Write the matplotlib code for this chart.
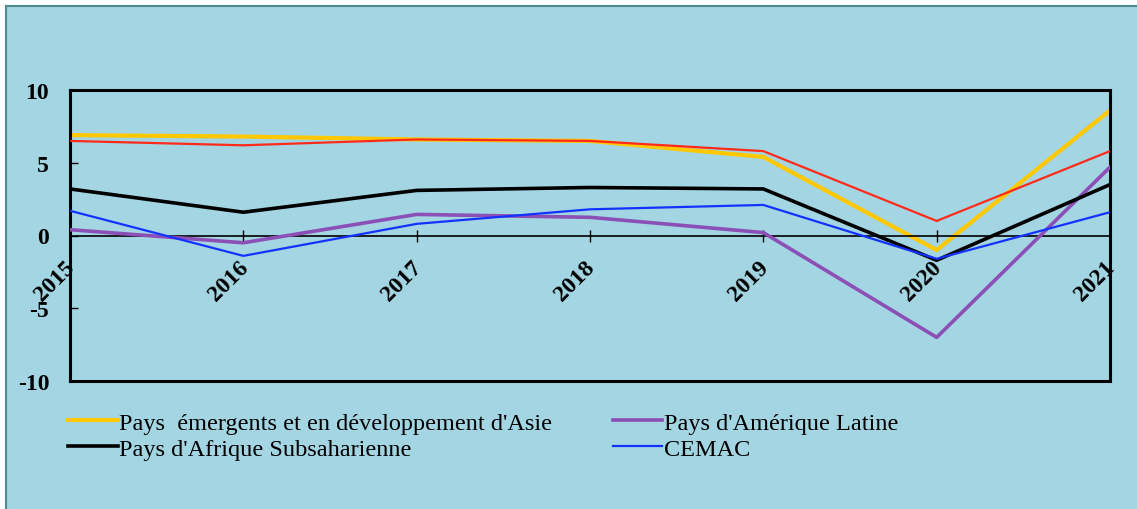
import numpy as np
import matplotlib
matplotlib.use('Agg')
import matplotlib.pyplot as plt
from matplotlib.patches import Rectangle
from matplotlib.transforms import ScaledTranslation

plt.rcParams['font.family'] = ['Liberation Serif', 'DejaVu Serif']

# taux de croissance du PIB reel (%)
annees = [2015, 2016, 2017, 2018, 2019, 2020, 2021]
asie = [6.9, 6.8, 6.6, 6.5, 5.4, -1.0, 8.6]
monde = [6.5, 6.2, 6.6, 6.5, 5.8, 1.0, 5.8]
afrique_ss = [3.2, 1.6, 3.1, 3.3, 3.2, -1.7, 3.5]
amerique_latine = [0.4, -0.5, 1.45, 1.25, 0.2, -7.0, 4.7]
cemac = [1.7, -1.4, 0.8, 1.8, 2.1, -1.6, 1.6]

fond = '#A3D5E3'

fig = plt.figure(figsize=(11.37, 5.10), dpi=100)
fig.patch.set_facecolor('white')
# cadre de fond avec bordure
fig.patches.append(Rectangle((6 / 1137, -0.1), 1.2, 1 - 6.5 / 510 + 0.1,
                             transform=fig.transFigure, facecolor=fond,
                             edgecolor='#4E8A8A', linewidth=1.5, zorder=-1))

ax = fig.add_axes([70 / 1137, 1 - 382 / 510, 1040 / 1137, 291 / 510])
ax.set_facecolor(fond)

l_asie, = ax.plot(annees, asie, color='#FFC800', lw=3.0, zorder=2,
                  label="Pays  émergents et en développement d'Asie")
l_lat, = ax.plot(annees, amerique_latine, color='#8B4FB5', lw=2.6, zorder=3,
                 label="Pays d'Amérique Latine")
l_afr, = ax.plot(annees, afrique_ss, color='black', lw=2.6, zorder=4,
                 label="Pays d'Afrique Subsaharienne")
ax.plot(annees, monde, color='#FF2A1A', lw=1.6, zorder=5)
l_cem, = ax.plot(annees, cemac, color='#1432FF', lw=1.6, zorder=6,
                 label='CEMAC')

ax.set_xlim(2015, 2021)
ax.set_ylim(-10, 10)
ax.set_yticks([-10, -5, 0, 5, 10])
ax.set_yticklabels(['-10', '-5', '0', '5', '10'], fontsize=17, fontweight='bold')
ax.tick_params(axis='y', direction='in', length=6, width=1, pad=15)
for s in ['left', 'top', 'right']:
    ax.spines[s].set_linewidth(2.2)

# axe des abscisses sur la ligne zero, bord inferieur redessine
ax.spines['bottom'].set_position(('data', 0))
ax.spines['bottom'].set_linewidth(1.2)
ax.plot([0, 1], [0, 0], transform=ax.transAxes, color='black', lw=2.2,
        clip_on=False, solid_capstyle='projecting', zorder=7)
ax.set_xticks(annees)
ax.set_xticklabels([str(a) for a in annees], fontsize=17, fontweight='bold',
                   rotation=45, ha='right', va='top', rotation_mode='anchor')
ax.tick_params(axis='x', direction='inout', length=8, width=1, pad=11)
decalage = ScaledTranslation(-4 / 72, 0, fig.dpi_scale_trans)
for lab in ax.get_xticklabels():
    lab.set_transform(lab.get_transform() + decalage)

fig.legend(handles=[l_asie, l_afr, l_lat, l_cem], ncol=2, frameon=False,
           loc='upper left', bbox_to_anchor=(58 / 1137, 1 - 403 / 510),
           fontsize=17.5, handlelength=2.05, handletextpad=0.05,
           columnspacing=2.5, labelspacing=0.16, borderaxespad=0)

fig.savefig('out.png', dpi=100, facecolor=fig.get_facecolor())
